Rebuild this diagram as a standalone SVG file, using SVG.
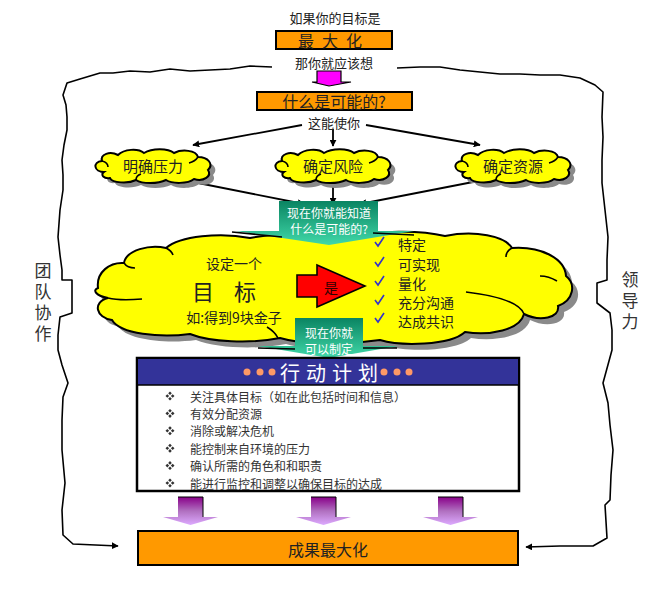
<svg xmlns="http://www.w3.org/2000/svg" width="660" height="589" viewBox="0 0 660 589">
<defs>
<style>
text{font-family:"Noto Sans CJK SC","Liberation Sans",sans-serif;text-anchor:middle;dominant-baseline:central;fill:#222}
.t13{font-size:13px}
.t14{font-size:14px}
.t15{font-size:15px}
.box{fill:#FF9900;stroke:#000;stroke-width:2}
.ln{fill:none;stroke:#000;stroke-width:1.8}
.bd{fill:none;stroke:#000;stroke-width:1.6;stroke-linejoin:round}
.cl{fill:#FFFF00;stroke:#000;stroke-width:2}
.sh{fill:#8a8a8a}
.hk{fill:none;stroke:#000;stroke-width:1.6}
.wt{fill:#fff;font-size:12px}
.li{font-size:12px;fill:#333;text-anchor:start}
.vt{font-size:17px;writing-mode:vertical-rl;text-anchor:start;letter-spacing:4px;fill:#333}
.ck{fill:none;stroke:#3333CC;stroke-width:1.6}
.dot{fill:#FF9966}
.bul{fill:#333}
</style>
<marker id="ah" viewBox="0 0 10 10" refX="9" refY="5" markerWidth="7" markerHeight="7" orient="auto" markerUnits="userSpaceOnUse">
<path d="M0,0 L10,5 L0,10 Z" fill="#000"/>
</marker>
<linearGradient id="teal" x1="0" y1="0" x2="0" y2="1">
<stop offset="0" stop-color="#0A8462"/>
<stop offset="1" stop-color="#40D8A8"/>
</linearGradient>
<linearGradient id="purp" x1="0" y1="0" x2="0" y2="1">
<stop offset="0" stop-color="#880088"/>
<stop offset="0.5" stop-color="#B070C0"/>
<stop offset="1" stop-color="#DDAAFF"/>
</linearGradient>
<path id="scl" d="M12,24 C2,24 0,14 10,13 C8,6 18,3 26,7 C32,1 46,0 52,5 C60,0 76,0 82,5 C90,1 104,2 106,9 C116,9 122,16 116,22 C120,28 112,34 102,31 C96,36 80,36 74,32 C66,36 50,36 44,32 C36,36 20,35 18,30 C12,31 8,27 12,24 Z"/>
<g id="cloudS">
<use href="#scl" class="sh" transform="translate(5,5)"/>
<use href="#scl" class="cl"/>
<path class="hk" d="M10,13 C14,14 16,16 16,19 M106,9 C104,12 101,14 97,15 M44,32 C44,29 46,27 49,26"/>
</g>
<path id="parrow" d="M0,0 H25 V20 H40 L12.5,28 L-15,20 H0 Z"/>
<g id="bul" class="bul">
<path d="M0,-4.5 L1.8,-2.7 L0,-0.9 L-1.8,-2.7 Z M0,4.5 L1.8,2.7 L0,0.9 L-1.8,2.7 Z M-4.5,0 L-2.7,1.8 L-0.9,0 L-2.7,-1.8 Z M4.5,0 L2.7,1.8 L0.9,0 L2.7,-1.8 Z"/>
</g>
</defs>

<!-- outer boundary -->
<g id="boundary">
<path class="bd" marker-end="url(#ah)" d="M272,67 L250,66 L230,69 L210,70 L190,71 L170,69 L150,72 L130,71 L113,73 L100,73 L90,76 L80,79 L67,83 L63,95 L66,105 L67,117 L67,130 L64,145 L62,160 L63,175 L63,190 L60,210 L58,237 L60,255 L62,270 L62,280 L72,280 L72,313 L60,317 L58,335 L58,350 L62,365 L68,383 L63,397 L62,420 L62,450 L65,483 L62,510 L63,535 L73,544 L118,546"/>
<path class="bd" marker-end="url(#ah)" d="M397,68 L420,67 L440,67 L460,70 L480,72 L500,74 L520,74 L540,75 L560,75 L580,78 L595,85 L603,92 L602,117 L603,137 L602,160 L602,183 L605,210 L608,237 L607,260 L607,280 L597,283 L597,303 L610,313 L612,330 L612,350 L603,383 L608,403 L610,425 L613,450 L611,475 L610,500 L605,505 L607,538 L593,546 L560,546 L526,547"/>
<text class="vt" x="43" y="262">团队协作</text>
<text class="vt" x="630" y="271">领导力</text>
</g>

<!-- connectors -->
<g id="connectors">
<line class="ln" marker-end="url(#ah)" x1="302" y1="125" x2="193" y2="145"/>
<line class="ln" marker-end="url(#ah)" x1="333" y1="129" x2="333" y2="146"/>
<line class="ln" marker-end="url(#ah)" x1="366" y1="125" x2="480" y2="145"/>
<line class="ln" marker-end="url(#ah)" x1="193" y1="182" x2="304" y2="204"/>
<line class="ln" marker-end="url(#ah)" x1="333" y1="185" x2="333" y2="204"/>
<line class="ln" marker-end="url(#ah)" x1="473" y1="182" x2="360" y2="204"/>
</g>

<g id="top">
<text class="t13" x="335" y="17">如果你的目标是</text>
</g>
<g id="maximize">
<rect class="box" x="276" y="31" width="116" height="18"/>
<text x="334" y="40" style="font-size:16px;letter-spacing:8px">最大化</text>
</g>
<g id="think">
<text class="t13" x="334" y="62">那你就应该想</text>
<path d="M317,71 H341 V82 H351 L329,86 L312,82 H317 Z" fill="#FF00FF" stroke="#000" stroke-width="1.2"/>
</g>
<g id="possible">
<rect class="box" x="257" y="92" width="155" height="18"/>
<text x="334" y="101" style="font-size:16px">什么是可能的?</text>
<text class="t13" x="334" y="122">这能使你</text>
</g>

<g id="cloud1">
<use href="#cloudS" transform="translate(92,148)"/>
<text class="t15" x="153" y="165">明确压力</text>
</g>
<g id="cloud2">
<use href="#cloudS" transform="translate(272,148)"/>
<text class="t15" x="333" y="165">确定风险</text>
</g>
<g id="cloud3">
<use href="#cloudS" transform="translate(452,148)"/>
<text class="t15" x="513" y="165">确定资源</text>
</g>

<!-- big cloud -->
<g id="bigcloud">
<path class="sh" transform="translate(6,6)" d="M98,288 C96,272 110,262 124,263 C126,250 150,244 166,248 C180,236 220,232 250,238 C280,232 320,234 345,238 C380,230 420,230 445,236 C475,230 505,236 512,248 C540,246 565,258 566,276 C576,284 574,300 558,306 C560,318 540,322 524,314 C520,330 490,336 465,332 C450,346 400,346 380,340 C340,346 300,344 280,338 C250,344 210,342 190,334 C160,338 120,334 112,320 C96,318 92,302 108,298 C96,296 92,290 98,288 Z"/>
<path class="cl" d="M98,288 C96,272 110,262 124,263 C126,250 150,244 166,248 C180,236 220,232 250,238 C280,232 320,234 345,238 C380,230 420,230 445,236 C475,230 505,236 512,248 C540,246 565,258 566,276 C576,284 574,300 558,306 C560,318 540,322 524,314 C520,330 490,336 465,332 C450,346 400,346 380,340 C340,346 300,344 280,338 C250,344 210,342 190,334 C160,338 120,334 112,320 C96,318 92,302 108,298 C96,296 92,290 98,288 Z"/>
<path class="hk" d="M124,263 C126,266 130,268 135,268 M108,298 C116,300 130,300 142,299 M512,248 C508,250 506,253 506,257 M524,314 C520,304 500,296 466,292 M540,276 C548,276 552,278 557,281 M267,327 C272,330 276,334 278,338 M166,248 C170,250 172,252 173,255"/>
<text class="t14" x="234" y="263">设定一个</text>
<text x="234" y="290" style="font-size:22px;letter-spacing:20px">目标</text>
<text class="t14" x="234" y="317">如:得到9块金子</text>
<path d="M297,275 H317 V265 L365,286 L317,307 V297 H297 Z" fill="#FF0000" stroke="#000" stroke-width="1.6"/>
<text class="t14" x="331" y="287" style="fill:#330000">是</text>
<path class="ck" d="M375,242 L378,246 L384,237 M375,262 L378,266 L384,257 M375,281 L378,285 L384,276 M375,300 L378,304 L384,295 M375,318 L378,322 L384,313"/>
<g style="font-size:14px">
<text x="398" y="244" style="text-anchor:start">特定</text>
<text x="398" y="264" style="text-anchor:start">可实现</text>
<text x="398" y="283" style="text-anchor:start">量化</text>
<text x="398" y="302" style="text-anchor:start">充分沟通</text>
<text x="398" y="321" style="text-anchor:start">达成共识</text>
</g>
</g>

<g id="callout1">
<path d="M279,201 H378 V231 H414 L329,245 L236,231 H279 Z" fill="url(#teal)"/>
<path class="hk" d="M232,232 L282,237 M373,233 L414,235"/>
<text class="wt" x="329" y="212">现在你就能知道</text>
<text class="wt" x="329" y="228">什么是可能的?</text>
</g>

<g id="callout2">
<path d="M295,318 H363 V346 H398 L329,358 L258,346 H295 Z" fill="url(#teal)"/>
<path class="hk" d="M258,348 L295,349 M363,348 L397,348"/>
<text class="wt" x="329" y="332">现在你就</text>
<text class="wt" x="329" y="348">可以制定</text>
</g>

<g id="plan">
<rect x="137" y="358" width="382" height="133" fill="#fff" stroke="#000" stroke-width="2.5"/>
<rect x="138" y="359" width="380" height="26" fill="#333399"/>
<line x1="138" y1="385" x2="518" y2="385" stroke="#000" stroke-width="1.5"/>
<text x="332" y="372" style="fill:#fff;font-size:20px;letter-spacing:6px">行动计划</text>
<circle class="dot" cx="247" cy="372" r="3.5"/><circle class="dot" cx="260" cy="372" r="3.5"/><circle class="dot" cx="272" cy="372" r="3.5"/>
<circle class="dot" cx="384" cy="372" r="3.5"/><circle class="dot" cx="397" cy="372" r="3.5"/><circle class="dot" cx="409" cy="372" r="3.5"/>
<use href="#bul" x="170" y="396"/><text class="li" x="190" y="396">关注具体目标（如在此包括时间和信息）</text>
<use href="#bul" x="170" y="413.4"/><text class="li" x="190" y="413.4">有效分配资源</text>
<use href="#bul" x="170" y="430.8"/><text class="li" x="190" y="430.8">消除或解决危机</text>
<use href="#bul" x="170" y="448.2"/><text class="li" x="190" y="448.2">能控制来自环境的压力</text>
<use href="#bul" x="170" y="465.6"/><text class="li" x="190" y="465.6">确认所需的角色和和职责</text>
<use href="#bul" x="170" y="483"/><text class="li" x="190" y="483">能进行监控和调整以确保目标的达成</text>
</g>

<g id="downarrows">
<use href="#parrow" transform="translate(178,497)" fill="url(#purp)"/>
<use href="#parrow" transform="translate(311,497)" fill="url(#purp)"/>
<use href="#parrow" transform="translate(438,497)" fill="url(#purp)"/>
<path class="hk" d="M178,497 H203 V517 M311,497 H336 V517 M438,497 H463 V517" style="stroke-width:1"/>
</g>

<g id="result">
<rect class="box" x="138" y="531" width="380" height="34"/>
<text x="328" y="549" style="font-size:16px">成果最大化</text>
</g>
</svg>
